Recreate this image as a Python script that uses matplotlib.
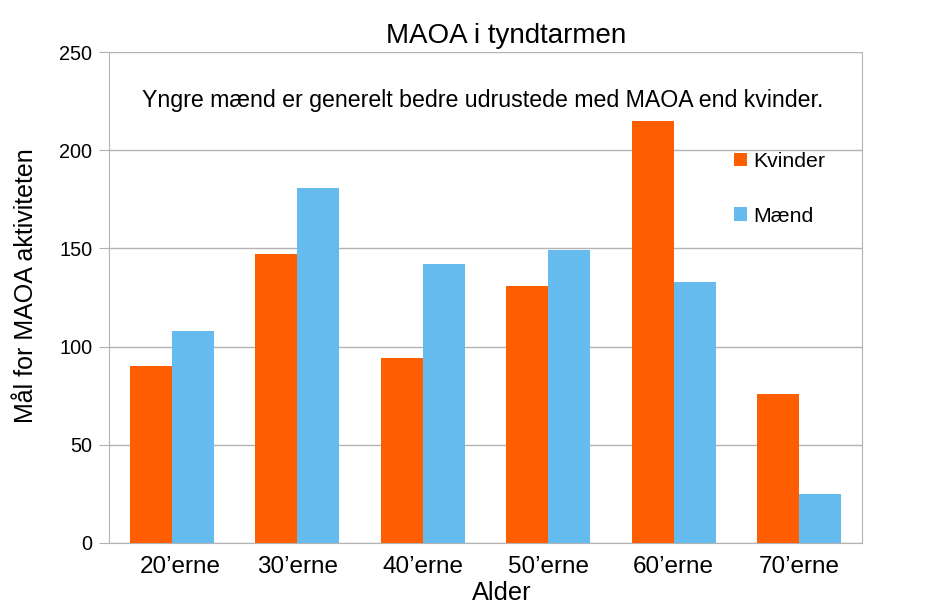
import matplotlib
matplotlib.use("Agg")
import matplotlib.pyplot as plt
import matplotlib.transforms as mtransforms
import numpy as np

plt.rcParams['font.family'] = ['Liberation Sans', 'DejaVu Sans']

categories = ["20’erne", "30’erne", "40’erne", "50’erne", "60’erne", "70’erne"]
kvinder = [90, 147, 94, 131, 215, 76]
maend = [108, 181, 142, 149, 133, 25]
yticks = [0, 50, 100, 150, 200, 250]

W, H = 929, 609
fig = plt.figure(figsize=(W / 100, H / 100), dpi=100)
ax = fig.add_axes([109 / W, 1 - 543 / H, (862 - 109) / W, (543 - 52) / H])

def fx(px):
    return px / W

def fy(py):
    return 1 - py / H

x = np.arange(len(categories))
w = 0.335
ax.bar(x - w/2, kvinder, w, color='#FF5E00', label='Kvinder', zorder=3)
ax.bar(x + w/2, maend, w, color='#66BBEE', label='Mænd', zorder=3)

ax.set_xlim(-0.5, len(categories) - 0.5)
ax.set_ylim(0, 250)
ax.set_yticks(yticks)
ax.set_xticks(x)
ax.set_xticklabels(categories, fontsize=17.5)
ax.tick_params(axis='x', length=0, pad=9.5)
ax.tick_params(axis='y', length=7, color='#b3b3b3', labelsize=14.3, pad=5)
ax.yaxis.grid(True, color='#b3b3b3', linewidth=1, zorder=0)
for s in ax.spines.values():
    s.set_color('#b3b3b3')
ax.spines['top'].set_visible(False)

# first label slightly shifted right as in the reference
lbl = ax.get_xticklabels()[0]
lbl.set_transform(lbl.get_transform() + mtransforms.ScaledTranslation(9 / 100, 0, fig.dpi_scale_trans))

fig.text(fx(506), fy(36), 'MAOA i tyndtarmen', fontsize=20, ha='center', va='center')
fig.text(fx(502), fy(593), 'Alder', fontsize=18.3, ha='center', va='center')
fig.text(fx(26), fy(286), 'Mål for MAOA aktiviteten', fontsize=18, ha='center', va='center',
         rotation=90)

fig.text(fx(483), fy(100), 'Yngre mænd er generelt bedre udrustede med MAOA end kvinder.',
         ha='center', va='center', fontsize=16.7)

leg = ax.legend(loc='upper left', bbox_to_anchor=(fx(734), fy(152)), bbox_transform=fig.transFigure,
                frameon=False, fontsize=15.3, handlelength=0.6, handleheight=0.6,
                handletextpad=0.3, labelspacing=1.68, borderaxespad=0, borderpad=0)

fig.savefig('out.png', dpi=100)
